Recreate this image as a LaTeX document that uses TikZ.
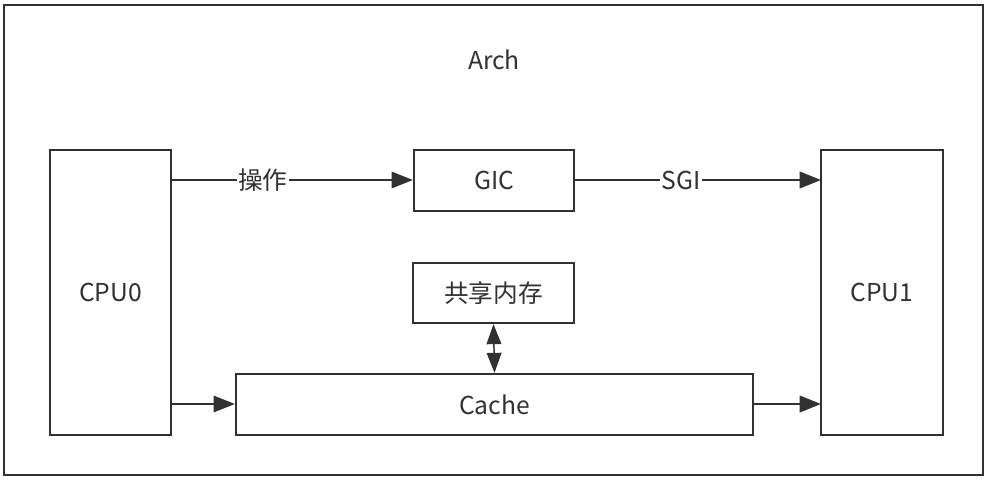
\documentclass[tikz,border=0pt]{standalone}
\usepackage{fontspec}
\setmainfont{Noto Sans CJK SC}
\usetikzlibrary{arrows.meta}
\definecolor{ink}{HTML}{2F3133}
\tikzset{
  px/.style={x=0.75pt,y=-0.75pt},
  txt/.style={font=\fontsize{18.5}{21}\selectfont,text=ink},
  blk/.style={draw=ink,line width=1.7pt,fill=white,inner sep=0pt,txt},
  conn/.style={draw=ink,line width=1.1pt,-{Triangle[length=16pt,width=12.5pt]}},
  dconn/.style={draw=ink,line width=1.1pt,{Triangle[length=15pt,width=11pt]}-{Triangle[length=15pt,width=11pt]}},
  lbl/.style={fill=white,inner sep=1pt,txt}
}
\begin{document}
\begin{tikzpicture}[px]
\useasboundingbox (0,0) rectangle (991,481);
\node[draw=ink,line width=1.7pt,minimum width=979*0.75pt,minimum height=470*0.75pt,inner sep=0pt] (arch) at (493.5,240) {};
\node[txt] (archl) at (494,60) {Arch};
\node[blk,minimum width=121*0.75pt,minimum height=285*0.75pt] (cpu0) at (110.5,292.5) {CPU0};
\node[blk,minimum width=122*0.75pt,minimum height=285*0.75pt] (cpu1) at (882,292.5) {CPU1};
\node[blk,minimum width=160*0.75pt,minimum height=61*0.75pt] (gic) at (494,180.5) {GIC};
\node[blk,minimum width=161*0.75pt,minimum height=60*0.75pt] (mem) at (493.5,293) {共享内存};
\node[blk,minimum width=517*0.75pt,minimum height=61*0.75pt] (cache) at (494.5,404.5) {Cache};
\coordinate (a1) at (171,180);
\coordinate (a2) at (821,180);
\coordinate (c1) at (171,404);
\coordinate (c2) at (821,404);
\draw[conn] (a1) -- node[lbl,pos=0.38] (op) {操作} (gic.west |- a1);
\draw[conn] (gic.east |- a2) -- node[lbl,pos=0.43] (sgi) {SGI} (a2);
\draw[conn] (c1) -- (cache.west |- c1);
\draw[conn] (cache.east |- c2) -- (c2);
\draw[dconn] (mem.south) -- (cache.north);
\end{tikzpicture}
\end{document}
